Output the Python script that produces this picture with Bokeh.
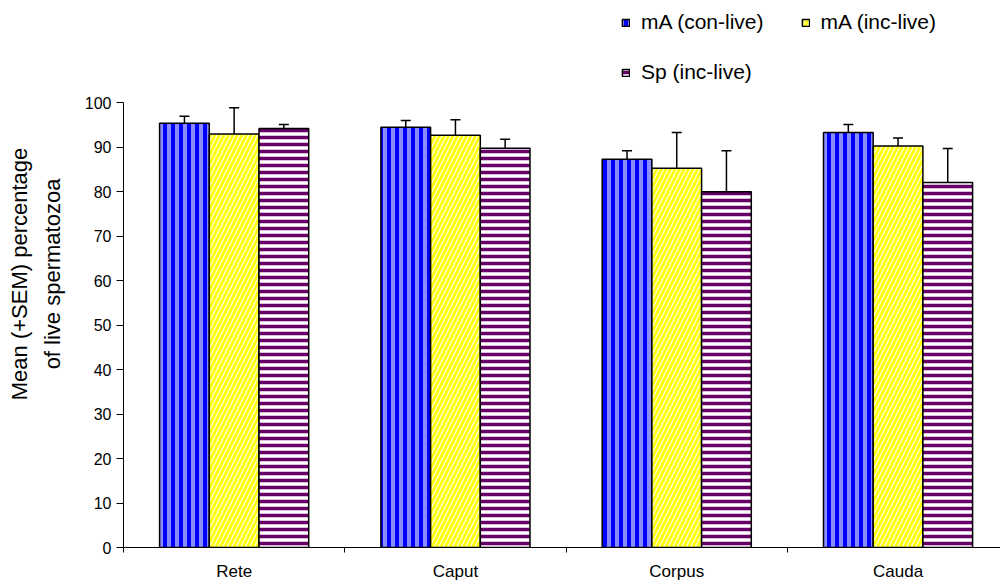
from bokeh.plotting import figure
from bokeh.models import (Range1d, FixedTicker, Whisker, TeeHead, ColumnDataSource,
                          Legend, LegendItem)
from bokeh.embed import file_html
from bokeh.resources import INLINE

# ---- data ----
categories = ["Rete", "Caput", "Corpus", "Cauda"]
series_names = ["mA (con-live)", "mA (inc-live)", "Sp (inc-live)"]
ma_con_live = [95.4, 94.5, 87.3, 93.3]
ma_con_live_sem = [1.6, 1.5, 1.9, 1.8]
ma_inc_live = [93.0, 92.7, 85.3, 90.3]
ma_inc_live_sem = [5.9, 3.5, 8.0, 1.8]
sp_inc_live = [94.2, 89.8, 80.0, 82.1]
sp_inc_live_sem = [0.9, 2.0, 9.2, 7.6]
y_ticks = [0, 10, 20, 30, 40, 50, 60, 70, 80, 90, 100]

FONT = "Liberation Sans"
bar_w = 0.2246
offsets = [-bar_w, 0.0, bar_w]
styles = [
    dict(fill_color="#8c8cff", hatch_pattern="vertical_line", hatch_color="#0000ff",
         hatch_weight=4, hatch_scale=8),
    dict(fill_color="#ffffc8", hatch_pattern="right_diagonal_line", hatch_color="#ffff00",
         hatch_weight=2.6, hatch_scale=9),
    dict(fill_color="#ffffff", hatch_pattern="horizontal_line", hatch_color="#660066",
         hatch_weight=3.5, hatch_scale=7),
]
values = [ma_con_live, ma_inc_live, sp_inc_live]
sems = [ma_con_live_sem, ma_inc_live_sem, sp_inc_live_sem]

# frame reaches the top of the canvas so the legend (above the value 100) is not clipped
p = figure(frame_width=877, frame_height=547, output_backend="svg", toolbar_location=None,
           x_range=Range1d(0, 3.963), y_range=Range1d(0, 123.0),
           min_border_left=123, min_border_top=0, min_border_bottom=28, min_border_right=0)
p.outline_line_color = None
p.xgrid.visible = False
p.ygrid.visible = False
p.background_fill_color = "white"
p.border_fill_color = "white"

renderers = []
for k in range(3):
    xs = [i + 0.5 + offsets[k] for i in range(len(categories))]
    tops = values[k]
    uppers = [v + e for v, e in zip(values[k], sems[k])]
    src = ColumnDataSource(dict(x=xs, top=tops, upper=uppers))
    r = p.vbar(x="x", top="top", bottom=0, width=bar_w, source=src,
               line_color="black", line_width=1.5, **styles[k])
    renderers.append(r)
    wk = Whisker(base="x", lower="top", upper="upper", source=src, dimension="height",
                 line_color="black", line_width=1.5,
                 upper_head=TeeHead(size=10, line_color="black", line_width=1.5),
                 lower_head=None)
    p.add_layout(wk)

# x axis: labels at centers, tick marks between categories
xa = p.xaxis[0]
centers = [i + 0.5 for i in range(len(categories))]
bounds = [float(i) for i in range(len(categories) + 1)]
xa.ticker = FixedTicker(ticks=centers, minor_ticks=bounds)
xa.major_label_overrides = {c: name for c, name in zip(centers, categories)}
xa.major_tick_out = 0
xa.major_tick_in = 0
xa.minor_tick_out = 5
xa.minor_tick_in = 0
xa.minor_tick_line_color = "black"
xa.axis_line_color = "black"
xa.major_label_standoff = 9
xa.major_label_text_font = FONT
xa.major_label_text_font_size = "17px"
xa.major_label_text_color = "#000000"

ya = p.yaxis[0]
ya.ticker = FixedTicker(ticks=y_ticks, minor_ticks=[])
ya.bounds = (y_ticks[0], y_ticks[-1])
ya.major_tick_out = 7
ya.major_tick_in = 0
ya.major_tick_line_color = "black"
ya.axis_line_color = "black"
ya.major_label_standoff = 5
ya.major_label_text_font = FONT
ya.major_label_text_font_size = "16px"
ya.major_label_text_color = "#000000"
ya.axis_label = "Mean (+SEM) percentage\nof live spermatozoa"
ya.axis_label_text_font = FONT
ya.axis_label_text_font_size = "22px"
ya.axis_label_text_line_height = 1.3
ya.axis_label_text_font_style = "normal"
ya.axis_label_text_color = "#000000"
ya.axis_label_standoff = 17

def make_legend(items, loc, orient):
    lg = Legend(items=items, location=loc, orientation=orient)
    lg.border_line_color = None
    lg.background_fill_alpha = 0
    lg.padding = 0
    lg.margin = 0
    lg.glyph_width = 9
    lg.glyph_height = 9
    lg.label_standoff = 11
    lg.spacing = 37
    lg.label_height = 24
    lg.label_text_font = FONT
    lg.label_text_font_size = "21px"
    lg.label_text_color = "#000000"
    return lg

leg1 = make_legend([LegendItem(label=series_names[0], renderers=[renderers[0]]),
                    LegendItem(label=series_names[1], renderers=[renderers[1]])],
                   (498, 513), "horizontal")
leg2 = make_legend([LegendItem(label=series_names[2], renderers=[renderers[2]])],
                   (498, 463), "vertical")
p.add_layout(leg1)
p.add_layout(leg2)

open("out.html", "w").write(file_html(p, INLINE))
